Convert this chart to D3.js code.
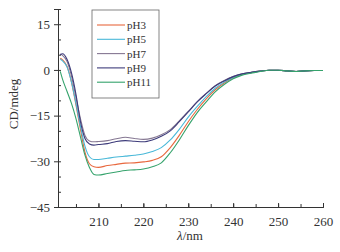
<!DOCTYPE html>
<html>
<head>
<meta charset="utf-8">
<script src="https://cdn.jsdelivr.net/npm/d3@7"></script>
<style>
  body { margin: 0; background: #fff; }
  svg text { font-family: "Liberation Serif", "DejaVu Serif", serif; fill: #333; }
</style>
</head>
<body>
<div id="chart"></div>
<script>
// wavelength (nm) and CD (mdeg)
const wavelengths = [201.5, 202, 203, 204, 205, 206, 207, 208, 209, 210, 212, 214, 216, 218, 220, 222, 224, 226, 228, 230, 232, 234, 236, 238, 240, 242, 244, 246, 248, 250, 252, 254, 256, 258, 260];
const pH3  = [3.8, 3.3, 1.2, -4, -11.5, -19.5, -27, -30.8, -31.8, -32, -31.4, -31, -30.6, -30.5, -30.2, -29.7, -28.5, -25.5, -21.5, -17, -13, -9.5, -6.5, -4.3, -2.6, -1.5, -0.9, -0.4, -0.1, -0.1, -0.3, -0.5, -0.3, -0.2, -0.2];
const pH5  = [3.5, 3, 1, -4, -11, -18.5, -25, -28.5, -29.4, -29.4, -29, -28.6, -28.3, -28, -27.6, -26.8, -25.5, -23, -19.5, -15.5, -12, -8.8, -6, -4, -2.5, -1.4, -0.9, -0.4, -0.1, -0.1, -0.3, -0.5, -0.3, -0.2, -0.2];
const pH7  = [5.2, 4.8, 2.8, -2, -9, -16, -21.5, -23.3, -23.6, -23.5, -23.2, -22.6, -22.1, -22.5, -22.8, -22.4, -21.3, -19.6, -16.7, -13.6, -10.4, -7.7, -5.2, -3.5, -2.2, -1.3, -0.8, -0.4, -0.1, -0.1, -0.3, -0.5, -0.3, -0.2, -0.2];
const pH9  = [5, 5.3, 3.5, -1, -8, -17, -22.5, -24.3, -24.7, -24.5, -24.2, -23.5, -23.2, -23.4, -23.6, -23, -21.8, -20, -17, -13.8, -10.5, -7.8, -5.3, -3.6, -2.2, -1.3, -0.8, -0.4, -0.1, -0.1, -0.3, -0.5, -0.3, -0.2, -0.2];
const pH11 = [-0.5, -3, -7, -11, -16, -22, -28, -32, -34.3, -34.5, -34, -33.5, -33, -32.8, -32.5, -31.8, -30.5, -27.2, -23, -18.3, -14, -10.5, -7.2, -4.8, -2.9, -1.7, -1.1, -0.5, -0.1, -0.1, -0.3, -0.5, -0.3, -0.2, -0.2];

const seriesNames = ["pH3", "pH5", "pH7", "pH9", "pH11"];
const seriesValues = [pH3, pH5, pH7, pH9, pH11];
const seriesColors = ["#e8683e", "#48b8d8", "#857792", "#3d3b7a", "#35a36c"];

const xTicks = [210, 220, 230, 240, 250, 260];
const yTicks = [-45, -30, -15, 0, 15];

const W = 340, H = 252;
const margin = {top: 9, right: 17, bottom: 45, left: 58};

const svg = d3.select("#chart").append("svg")
    .attr("width", W)
    .attr("height", H);

const x = d3.scaleLinear().domain([201, 260]).range([margin.left, W - margin.right]);
const y = d3.scaleLinear().domain([-45, 20]).range([H - margin.bottom, margin.top]);

// x axis: major ticks + minor ticks pointing up
const xAxis = svg.append("g")
    .attr("transform", "translate(0," + (H - margin.bottom) + ")");
xAxis.call(d3.axisBottom(x).tickValues(d3.range(205, 261, 5)).tickSize(-3).tickFormat(""));
xAxis.call(g => g.append("g").call(d3.axisBottom(x).tickValues(xTicks).tickSize(-4).tickPadding(10)));
xAxis.selectAll(".domain").attr("stroke", "#333");
xAxis.selectAll("line").attr("stroke", "#333");
xAxis.selectAll("text").style("font-size", "13px").attr("fill", "#333");

// y axis
const yAxis = svg.append("g")
    .attr("transform", "translate(" + margin.left + ",0)");
yAxis.call(d3.axisLeft(y).tickValues(d3.range(-45, 21, 5)).tickSize(-3).tickFormat(""));
yAxis.call(g => g.append("g").call(d3.axisLeft(y).tickValues(yTicks).tickSize(4).tickPadding(4)));
yAxis.selectAll(".domain").attr("stroke", "#333");
yAxis.selectAll("line").attr("stroke", "#333");
yAxis.selectAll("text").style("font-size", "13px").attr("fill", "#333");

// lines
const line = d3.line()
    .x((d, i) => x(wavelengths[i]))
    .y(d => y(d))
    .curve(d3.curveMonotoneX);

svg.append("g").selectAll("path")
    .data(seriesValues)
    .join("path")
    .attr("fill", "none")
    .attr("stroke", (d, i) => seriesColors[i])
    .attr("stroke-width", 1.1)
    .attr("d", line);

// legend
const legend = svg.append("g").attr("transform", "translate(92,10)");
legend.append("rect")
    .attr("width", 67).attr("height", 88)
    .attr("fill", "#fff").attr("stroke", "#666").attr("stroke-width", 0.8);
seriesNames.forEach((name, i) => {
    const yy = 15 + i * 14.3;
    legend.append("line")
        .attr("x1", 5).attr("x2", 33).attr("y1", yy).attr("y2", yy)
        .attr("stroke", seriesColors[i]).attr("stroke-width", 1.1);
    legend.append("text")
        .attr("x", 35).attr("y", yy + 4)
        .style("font-size", "11px")
        .text(name);
});

// axis titles
svg.append("text")
    .attr("transform", "translate(18,104) rotate(-90)")
    .attr("text-anchor", "middle")
    .style("font-size", "13px")
    .text("CD/mdeg");

const xt = svg.append("text")
    .attr("x", 190).attr("y", 240)
    .attr("text-anchor", "middle")
    .style("font-size", "13px");
xt.append("tspan").style("font-style", "italic").text("λ");
xt.append("tspan").text("/nm");
</script>
</body>
</html>
